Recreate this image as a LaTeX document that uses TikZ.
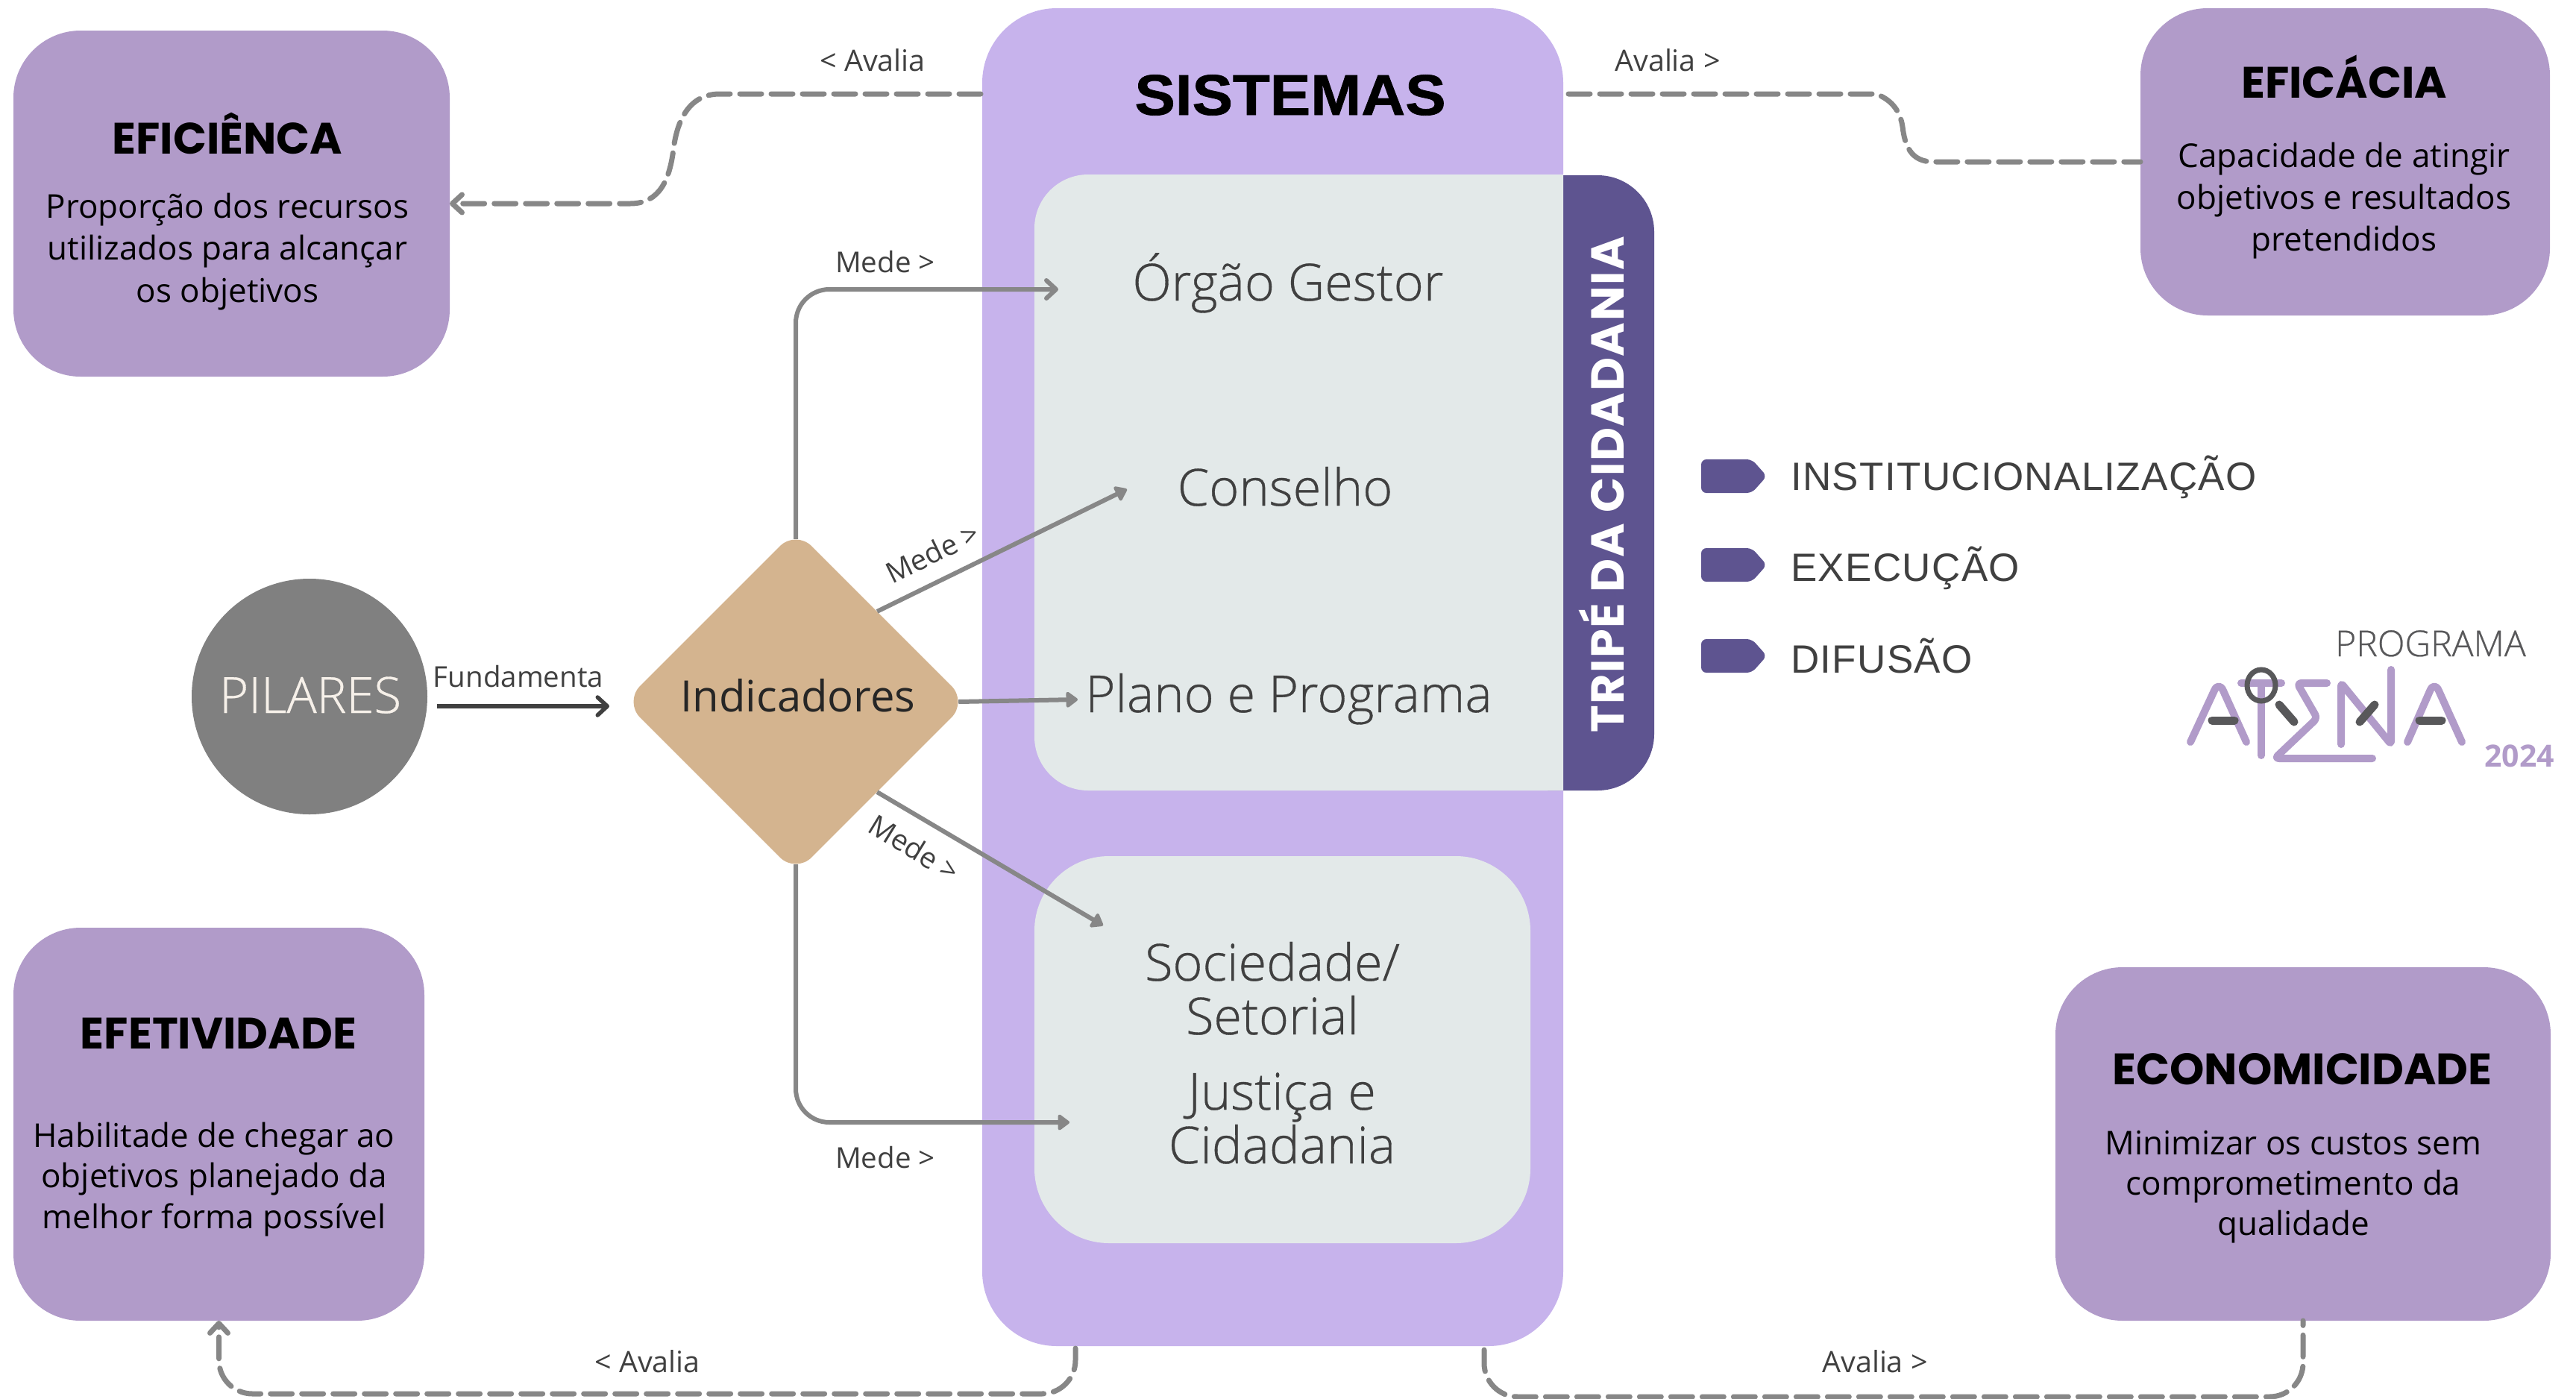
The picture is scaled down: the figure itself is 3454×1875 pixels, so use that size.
\documentclass[tikz,border=0pt]{standalone}
\usepackage{fontspec}
\usetikzlibrary{arrows.meta,shapes.geometric}
\setmainfont{Open Sans}
\newfontfamily\panelfont[FakeBold=0.5]{Open Sans Light}
\newfontfamily\titlefont{Poppins}
\newfontfamily\sysfont[BoldFeatures={FakeStretch=1.06,FakeBold=1}]{Liberation Sans}
\newfontfamily\listfont[LetterSpace=2.5]{Liberation Sans}
\newfontfamily\tripefont[LetterSpace=2.5]{Poppins}
\newcommand{\fsz}[1]{\fontsize{#1}{#1}\selectfont}
\definecolor{boxlilac}{HTML}{B19BC9}
\definecolor{mainlilac}{HTML}{C7B3EC}
\definecolor{panelgrey}{HTML}{E3E9E9}
\definecolor{darkviolet}{HTML}{5E5490}
\definecolor{sand}{HTML}{D4B48F}
\definecolor{disc}{HTML}{808080}
\definecolor{conn}{HTML}{878787}
\definecolor{ink}{HTML}{404040}
\definecolor{logodark}{HTML}{58585A}
\tikzset{
  block/.style={rectangle,inner sep=0pt,outer sep=0pt,draw=none},
  card/.style={block,fill=boxlilac,rounded corners=90pt},
  cardtitle/.style={anchor=base,inner sep=0pt,text=black,font=\titlefont\bfseries\fsz{59}},
  cardbody/.style={anchor=base,inner sep=0pt,text=black,align=center,font=\fsz{44}\linespread{1}},
  paneltext/.style={anchor=base,inner sep=0pt,text=ink,font=\panelfont\fsz{68.5}},
  smalltext/.style={anchor=base,inner sep=0pt,text=ink,font=\fsz{38.5}},
  listtext/.style={anchor=base west,inner sep=0pt,text=ink,font=\listfont\fsz{53}},
  solidconn/.style={draw=conn,line width=6pt,rounded corners=45pt},
  dashconn/.style={draw=conn,line width=7pt,line cap=round,dash pattern=on 29pt off 13pt},
  barb/.tip={Straight Barb[length=13pt,width=24pt,round]},
  headtip/.tip={Triangle[length=17pt,width=24pt,round]},
  logostroke/.style={draw=boxlilac,line width=10pt,line cap=round,line join=round},
  logomark/.style={draw=logodark,line width=11pt,line cap=round},
}
\begin{document}
\begin{tikzpicture}[x=1pt,y=-1pt]
\useasboundingbox (0,0) rectangle (3454,1875);
% panels
\node[block,fill=mainlilac,rounded corners=100pt,minimum width=779pt,minimum height=1794pt] (sys) at (1706.5,908) {};
\node[block,fill=darkviolet,rounded corners=76pt,minimum width=218pt,minimum height=825pt] (tripebox) at (2109,647.5) {};
\path[fill=panelgrey] (2096,234) [rounded corners=72pt] -- (1387,234) -- (1387,1060) [sharp corners] -- (2096,1060) -- cycle;
\node[block,fill=panelgrey,rounded corners=100pt,minimum width=665pt,minimum height=519pt] (lower) at (1719.5,1407.5) {};
% cards
\node[card,minimum width=585pt,minimum height=464pt] (eficiencia) at (310.5,273) {};
\node[card,minimum width=549pt,minimum height=412pt] (eficacia) at (3144.5,217) {};
\node[card,minimum width=551pt,minimum height=527pt] (efetividade) at (293.5,1507.5) {};
\node[card,minimum width=664pt,minimum height=474pt] (economicidade) at (3088,1534) {};
% card texts
\node[cardtitle] (t1) at (305,206) {EFICIÊNCA};
\node[cardbody] (b1) at (305,405) {Proporção dos recursos\\[12.5pt]utilizados para alcançar\\[12.5pt]os objetivos};
\node[cardtitle] (t2) at (3143,131) {EFICÁCIA};
\node[cardbody] (b2) at (3143,336) {Capacidade de atingir\\[12pt]objetivos e resultados\\[12pt]pretendidos};
\node[cardtitle] (t3) at (293,1406) {EFETIVIDADE};
\node[cardbody] (b3) at (287,1647) {Habilitade de chegar ao\\[9.5pt]objetivos planejado da\\[9.5pt]melhor forma possível};
\node[cardtitle] (t4) at (3087,1454) {ECONOMICIDADE};
\node[cardbody] (b4) at (3075,1656) {Minimizar os custos sem\\[10pt]comprometimento da\\[10pt]qualidade};
% system texts
\node[anchor=base,inner sep=0pt,font=\sysfont\bfseries\fsz{77},text=black] (systitle) at (1730,154) {SISTEMAS};
\node[paneltext] (orgao) at (1727,403) {Órgão Gestor};
\node[paneltext] (conselho) at (1723,678) {Conselho};
\node[paneltext] (plano) at (1728,955) {Plano e Programa};
\node[paneltext,align=center] (sociedade) at (1706,1387) {Sociedade/\\[3.5pt]Setorial};
\node[paneltext,align=center] (justica) at (1719,1560) {Justiça e\\[3.5pt]Cidadania};
\node[rotate=90,anchor=base,inner sep=0pt,text=white,font=\tripefont\bfseries\fsz{62}] (tripe) at (2177,650) {TRIPÉ DA CIDADANIA};
% pilares / indicadores
\node[circle,fill=disc,inner sep=0pt,minimum size=316pt] (pilares) at (415,934) {};
\node[anchor=base,inner sep=0pt,text=white!80!sand,font=\panelfont\fsz{67}] (pilarestext) at (416,956) {PILARES};
\node[diamond,shape aspect=1,fill=sand,inner sep=0pt,minimum width=460pt,minimum height=460pt,rounded corners=30pt] (ind) at (1067,941) {};
\node[anchor=base,inner sep=0pt,text=black!85,font=\fsz{58}] (indtext) at (1070,954) {Indicadores};
% connector ends
\coordinate (toorgao) at (1419,388);
\coordinate (toconselho) at (1511,656);
\coordinate (toplano) at (1445,938);
\coordinate (tosociedade) at (1479,1241);
\coordinate (tojustica) at (1434,1505);
\coordinate (tofund) at (817,947);
\coordinate (fromfund) at (586,947);
\coordinate (sysW) at (1315,126);
\coordinate (sysE) at (2103,126);
\coordinate (sysBL) at (1442,1808);
\coordinate (sysBR) at (1990,1810);
\coordinate (railL) at (900,1869);
\coordinate (railR) at (2500,1873);
% solid connectors
\draw[solidconn,-{barb}] (ind.north) ++(0,12) |- (toorgao);
\draw[solidconn,-{headtip}] (ind.north east) ++(-6,-6) -- (toconselho);
\draw[solidconn,-{headtip}] (ind.east) ++(-12,0) -- (toplano);
\draw[solidconn,-{headtip}] (ind.south east) ++(-6,6) -- (tosociedade);
\draw[solidconn,-{headtip}] (ind.south) ++(0,-12) |- (tojustica);
\draw[draw=ink,line width=5.5pt,-{barb}] (fromfund) -- (tofund);
% dashed connectors
\draw[dashconn,-{barb}] (sysW) -- (965,126) .. controls (925,126) and (908,160) .. (903,200) .. controls (898,240) and (885,273) .. (845,273) -- (eficiencia.east);
\draw[dashconn] (sysE) -- (2516,126) .. controls (2538,135) and (2548,150) .. (2551,170) .. controls (2554,195) and (2562,217) .. (2592,217) -- (eficacia.west);
\draw[dashconn,rounded corners=45pt,-{barb}] (sysBL) |- (railL) -| (efetividade.south);
\draw[dashconn,rounded corners=45pt] (sysBR) |- (railR) -| (economicidade.south);
% labels
\node[smalltext,font=\fsz{39.5}] (l1) at (1170,95) {< Avalia};
\node[smalltext,font=\fsz{39.5}] (l2) at (2236,95) {Avalia >};
\node[smalltext] (l3) at (1187,365) {Mede >};
\node[smalltext,rotate=26,anchor=center] (l4) at (1250,741) {Mede >};
\node[smalltext,rotate=-31.5,anchor=center] (l5) at (1226,1137) {Mede >};
\node[smalltext] (l6) at (1187,1566) {Mede >};
\node[smalltext] (l7) at (695,921) {Fundamenta};
\node[smalltext,font=\fsz{39.5}] (l8) at (868,1840) {< Avalia};
\node[smalltext,font=\fsz{39.5}] (l9) at (2514,1840) {Avalia >};
% list
\foreach \yy/\bb/\tt/\nm in {616/657/INSTITUCIONALIZAÇÃO/lista,735/779/EXECUÇÃO/listb,857/902/DIFUSÃO/listc}{
  \path[fill=darkviolet,rounded corners=7pt] (2281,\yy) -- ++(68,0) -- ++(20,22.5) -- ++(-20,22.5) -- ++(-68,0) -- cycle;
  \node[listtext] (\nm) at (2401,\bb) {\tt};
}
% logo
\node[anchor=base west,inner sep=0pt,text=logodark,font=\panelfont\fsz{48}] (prog) at (3131,880) {PROGRAMA};
\node[anchor=base west,inner sep=0pt,text=boxlilac,font=\bfseries\fsz{41}] (ano) at (3331,1028) {2024};
\draw[logostroke,rounded corners=14pt] (2937,995) -- (2975,913) -- (3012,995);
\draw[logostroke] (3005,916) -- (3059,916);
\draw[logostroke] (3032,916) -- (3032,1013);
\draw[logostroke,rounded corners=6pt] (3120,916) -- (3080,916) -- (3107,963) -- (3050,1017) -- (3181,1017);
\draw[logostroke,rounded corners=4pt] (3139,998) -- (3139,916) -- (3206,998) -- (3206,898);
\draw[logostroke,rounded corners=14pt] (3228,995) -- (3264,913) -- (3301,995);
\draw[logodark,line width=7pt] (3032,919) ellipse (19pt and 21pt);
\draw[logomark] (2966,966) -- (2996,966);
\draw[logomark] (3056,945) -- (3076,968);
\draw[logomark] (3184,945) -- (3164,968);
\draw[logomark] (3244,966) -- (3274,966);
\end{tikzpicture}
\end{document}
